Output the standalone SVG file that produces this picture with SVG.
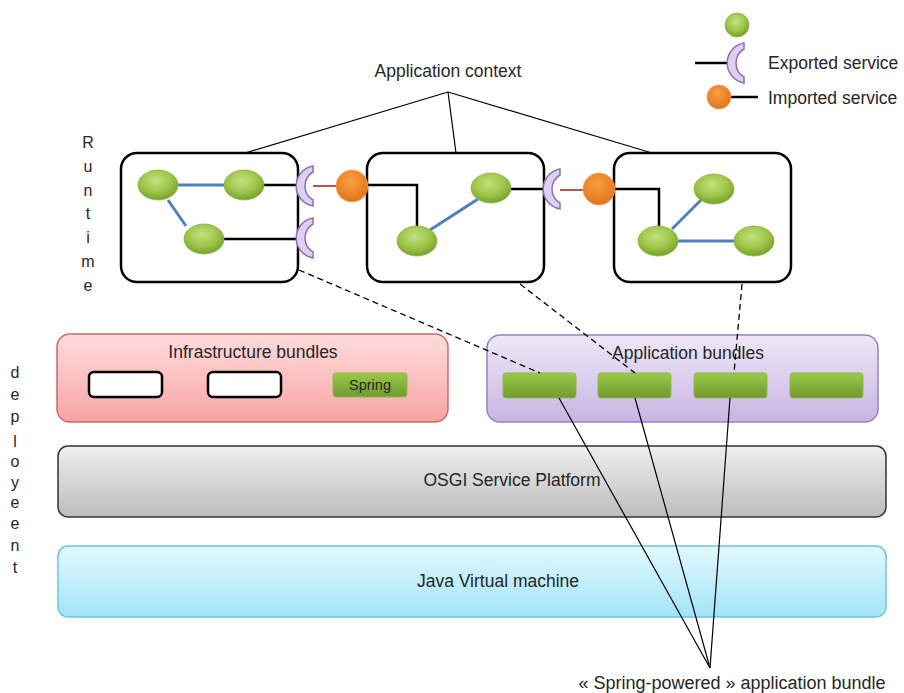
<svg xmlns="http://www.w3.org/2000/svg" width="904" height="693" viewBox="0 0 904 693">
<defs>
<style>
text{font-family:"Liberation Sans","Open Sans",Arial,sans-serif;fill:#262626}
.lbl{font-size:17.5px}
.ctx{fill:#fff;stroke:#000;stroke-width:2.5}
.gn{fill:url(#gG);stroke:#8fb040;stroke-width:0.8}
.or{fill:url(#gO);stroke:#f0a050;stroke-width:0.8}
.cr{fill:#ddd0ee;stroke:#8d6fb5;stroke-width:1.5}
.blue{stroke:#4f81bd;stroke-width:3;fill:none}
.blk{stroke:#000;stroke-width:2.5;fill:none}
.red{stroke:#c0504d;stroke-width:2;fill:none}
.thin{stroke:#000;stroke-width:1.2;fill:none}
.dash{stroke:#000;stroke-width:1.3;stroke-dasharray:6,4;fill:none}
.wb{fill:#fff;stroke:#000;stroke-width:2.5}
.gb{fill:url(#gB);stroke:#8fb850;stroke-width:1}
.letters{font-size:16px}
</style>
<radialGradient id="gG" cx="0.45" cy="0.35" r="0.65">
<stop offset="0" stop-color="#c4e07e"/>
<stop offset="0.6" stop-color="#9cc548"/>
<stop offset="1" stop-color="#76a02a"/>
</radialGradient>
<radialGradient id="gO" cx="0.45" cy="0.35" r="0.65">
<stop offset="0" stop-color="#f8a040"/>
<stop offset="1" stop-color="#e2741a"/>
</radialGradient>
<linearGradient id="gB" x1="0" y1="0" x2="0" y2="1">
<stop offset="0" stop-color="#9cc848"/>
<stop offset="1" stop-color="#6f9a30"/>
</linearGradient>
<linearGradient id="gInf" x1="0" y1="0" x2="0" y2="1">
<stop offset="0" stop-color="#ffdcdc"/>
<stop offset="1" stop-color="#f7a3a3"/>
</linearGradient>
<linearGradient id="gApp" x1="0" y1="0" x2="0" y2="1">
<stop offset="0" stop-color="#efe8f7"/>
<stop offset="1" stop-color="#c8b4e2"/>
</linearGradient>
<linearGradient id="gOsgi" x1="0" y1="0" x2="0" y2="1">
<stop offset="0" stop-color="#eeeeee"/>
<stop offset="1" stop-color="#bdbdbd"/>
</linearGradient>
<linearGradient id="gJvm" x1="0" y1="0" x2="0" y2="1">
<stop offset="0" stop-color="#e2f8ff"/>
<stop offset="1" stop-color="#a2e4f8"/>
</linearGradient>
<path id="cres" d="M17,-20 A20.3,20.3 0 0 0 17,20 L17,14 A16.25,16.25 0 0 1 17,-14 Z"/>
</defs>
<rect width="904" height="693" fill="#fff"/>

<!-- layers -->
<g id="infrastructure">
<rect x="57" y="334" width="391" height="88" rx="13" fill="url(#gInf)" stroke="#c86a6a" stroke-width="1.5"/>
<text class="lbl" x="253" y="358" text-anchor="middle">Infrastructure bundles</text>
<rect class="wb" x="89" y="372" width="73" height="25" rx="5"/>
<rect class="wb" x="208" y="372" width="73" height="25" rx="5"/>
<rect class="gb" x="333" y="373" width="74" height="24" rx="3"/>
<text x="370" y="390" text-anchor="middle" style="font-size:14.5px">Spring</text>
</g>
<g id="application-bundles">
<rect x="487" y="335" width="391" height="87" rx="13" fill="url(#gApp)" stroke="#9a80bd" stroke-width="1.5"/>
<text class="lbl" x="688" y="359" text-anchor="middle">Application bundles</text>
<rect class="gb" x="503" y="373" width="73" height="25" rx="3"/>
<rect class="gb" x="598" y="373" width="73" height="25" rx="3"/>
<rect class="gb" x="694" y="373" width="73" height="25" rx="3"/>
<rect class="gb" x="790" y="373" width="73" height="25" rx="3"/>
</g>
<g id="osgi">
<rect x="58" y="446" width="828" height="71" rx="10" fill="url(#gOsgi)" stroke="#333" stroke-width="1.5"/>
<text class="lbl" x="512" y="486" text-anchor="middle">OSGI Service Platform</text>
</g>
<g id="jvm">
<rect x="58" y="546" width="828" height="71" rx="10" fill="url(#gJvm)" stroke="#6cc5dc" stroke-width="1.5"/>
<text class="lbl" x="498" y="587" text-anchor="middle">Java Virtual machine</text>
</g>

<!-- context boxes -->
<g id="context1">
<rect class="ctx" x="121" y="153" width="177" height="129" rx="16"/>
<line class="blue" x1="175" y1="185" x2="228" y2="185"/>
<line class="blue" x1="168" y1="200" x2="186" y2="226"/>
<line class="blk" x1="263" y1="185" x2="298" y2="185"/>
<line class="blk" x1="223" y1="239" x2="298" y2="239"/>
<ellipse class="gn" cx="158" cy="185" rx="20" ry="15"/>
<ellipse class="gn" cx="244" cy="185" rx="20" ry="15"/>
<ellipse class="gn" cx="204" cy="239" rx="20" ry="15"/>
<use href="#cres" class="cr" x="296" y="186"/>
<use href="#cres" class="cr" x="296" y="238"/>
</g>
<g id="context2">
<rect class="ctx" x="367" y="153" width="177" height="129" rx="16"/>
<line class="blue" x1="430" y1="230" x2="478" y2="199"/>
<polyline class="blk" points="368,185 417,185 417,227"/>
<line class="blk" x1="510" y1="189" x2="544" y2="189"/>
<ellipse class="gn" cx="417" cy="241" rx="20" ry="15"/>
<ellipse class="gn" cx="491" cy="188" rx="20" ry="15"/>
<use href="#cres" class="cr" x="543" y="189"/>
</g>
<g id="context3">
<rect class="ctx" x="614" y="153" width="177" height="129" rx="16"/>
<line class="blue" x1="672" y1="229" x2="702" y2="199"/>
<line class="blue" x1="676" y1="241" x2="736" y2="241"/>
<polyline class="blk" points="614,189 659,189 659,227"/>
<ellipse class="gn" cx="714" cy="189" rx="20" ry="15"/>
<ellipse class="gn" cx="658" cy="241" rx="20" ry="15"/>
<ellipse class="gn" cx="754" cy="241" rx="20" ry="15"/>
</g>
<g id="imports">
<line class="red" x1="313" y1="186" x2="338" y2="186"/>
<line class="red" x1="560" y1="190" x2="584" y2="190"/>
<circle class="or" cx="352" cy="186" r="16"/>
<circle class="or" cx="599" cy="189" r="16"/>
</g>

<!-- labels -->
<text id="app-context" class="lbl" x="448" y="77" text-anchor="middle">Application context</text>
<g id="runtime-label" class="letters" text-anchor="middle">
<text x="88" y="148">R</text><text x="88" y="172">u</text><text x="88" y="196">n</text><text x="88" y="219">t</text><text x="88" y="243">i</text><text x="88" y="267">m</text><text x="88" y="291">e</text>
</g>
<g id="deployment-label" class="letters" text-anchor="middle">
<text x="15" y="378">d</text><text x="15" y="400">e</text><text x="15" y="422">p</text><text x="15" y="447">l</text><text x="15" y="467">o</text><text x="15" y="488">y</text><text x="15" y="508">e</text><text x="15" y="529">e</text><text x="15" y="551">n</text><text x="15" y="573">t</text>
</g>
<text id="spring-powered" x="732" y="689" text-anchor="middle" style="font-size:18px">« Spring-powered » application bundle</text>

<!-- legend -->
<g id="legend">
<circle class="gn" cx="737" cy="25" r="12"/>
<line class="blk" x1="695" y1="63" x2="728" y2="63"/>
<use href="#cres" class="cr" x="727" y="63"/>
<text class="lbl" x="768" y="69">Exported service</text>
<line class="blk" x1="725" y1="97" x2="758" y2="97"/>
<circle class="or" cx="719" cy="97" r="12"/>
<text class="lbl" x="768" y="104">Imported service</text>
</g>

<!-- connectors -->
<g id="connectors">
<line class="thin" x1="448" y1="92" x2="245" y2="153"/>
<line class="thin" x1="448" y1="92" x2="456" y2="153"/>
<line class="thin" x1="448" y1="92" x2="652" y2="153"/>
<line class="dash" x1="299" y1="270" x2="540" y2="373"/>
<line class="dash" x1="520" y1="284" x2="635" y2="373"/>
<line class="dash" x1="742" y1="284" x2="734" y2="373"/>
<line class="thin" x1="559" y1="398" x2="710" y2="668"/>
<line class="thin" x1="635" y1="398" x2="710" y2="668"/>
<line class="thin" x1="730" y1="398" x2="710" y2="668"/>
</g>
</svg>
